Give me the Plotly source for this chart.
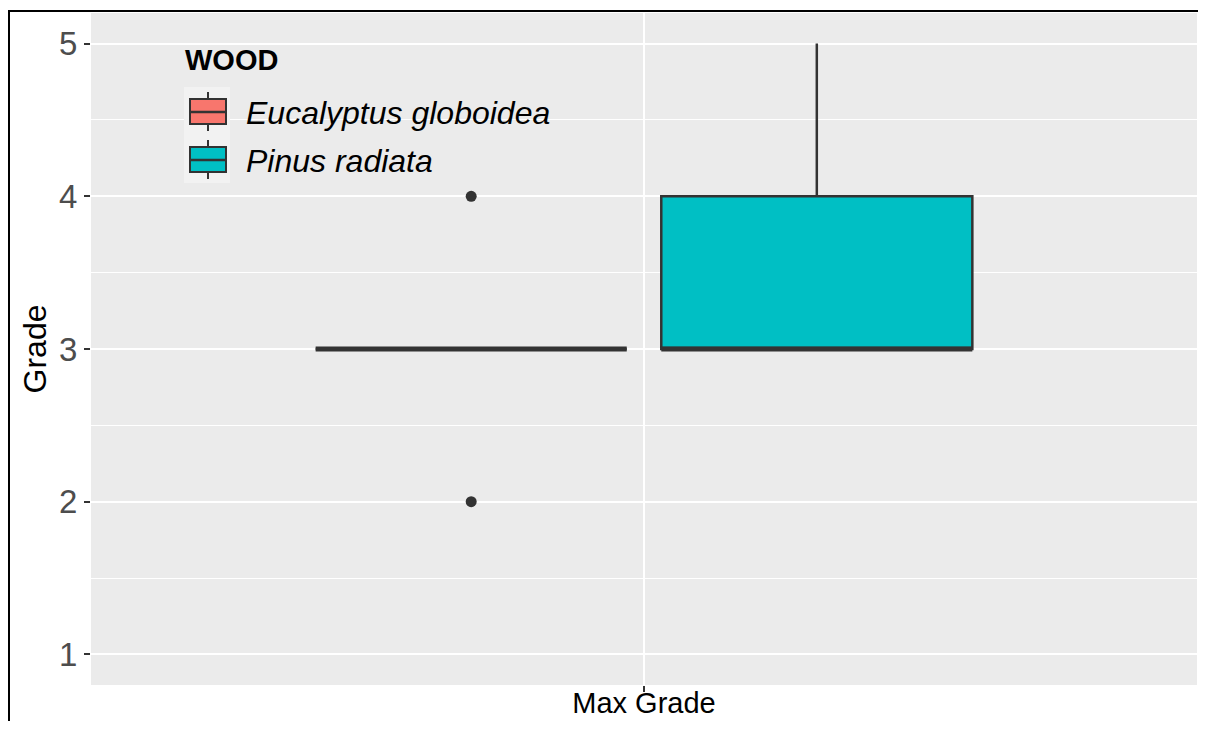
import plotly.graph_objects as go

# ---- data ----
category = ["Max Grade"]
woods = ["Eucalyptus globoidea", "Pinus radiata"]
q1 = [3, 3]
median = [3, 3]
q3 = [3, 4]
lowerfence = [3, 3]
upperfence = [3, 5]
outliers = [[2, 4], []]
y_ticks = [1, 2, 3, 4, 5]

# ---- style ----
fills = ["#F8766D", "#00BFC4"]
dark = "#333333"
FONT = "Liberation Sans, Arial, sans-serif"

# page body has an 8px margin, so the figure is sized to fit the window
OFF = 8
W, H = 1206 - OFF, 729 - 2 * OFF
PL, PR, PT, PB = 91, 1197, 13, 685          # panel edges in window pixels
ML, MR, MT, MB = PL - OFF, (OFF + W) - PR, PT - OFF, (OFF + H) - PB

def px_x(p):
    return (p - PL) / (PR - PL)

def px_y(p):
    return (PB - p) / (PB - PT)

fig = go.Figure()
for i, w in enumerate(woods):
    kw = {}
    if outliers[i]:
        kw["y"] = [outliers[i]]
        kw["boxpoints"] = "outliers"
    else:
        kw["boxpoints"] = False
    fig.add_trace(go.Box(
        x=category,
        q1=[q1[i]], median=[median[i]], q3=[q3[i]],
        lowerfence=[lowerfence[i]], upperfence=[upperfence[i]],
        name=w,
        fillcolor=fills[i],
        line=dict(color=dark, width=2.5),
        marker=dict(color=dark, size=11, line=dict(width=0)),
        pointpos=0, jitter=0,
        offsetgroup=str(i),
        whiskerwidth=0,
        showlegend=False,
        **kw,
    ))
# thicker median lines (ggplot fatten)
for i, w in enumerate(woods):
    fig.add_trace(go.Box(
        x=category,
        q1=[median[i]], median=[median[i]], q3=[median[i]],
        lowerfence=[median[i]], upperfence=[median[i]],
        fillcolor="rgba(0,0,0,0)",
        line=dict(color=dark, width=5),
        boxpoints=False,
        offsetgroup=str(i),
        showlegend=False, hoverinfo="skip",
        whiskerwidth=0,
    ))

shapes = []
# outer frame (left and top edges)
shapes.append(dict(type="line", xref="paper", yref="paper",
                   x0=px_x(9), x1=px_x(9), y0=px_y(11), y1=px_y(760),
                   line=dict(color="black", width=2)))
shapes.append(dict(type="line", xref="paper", yref="paper",
                   x0=px_x(8), x1=px_x(1230), y0=px_y(11), y1=px_y(11),
                   line=dict(color="black", width=2)))

# ggplot-style legend keys
shapes.append(dict(type="rect", xref="paper", yref="paper", layer="above",
                   x0=px_x(184), x1=px_x(230), y0=px_y(87), y1=px_y(183),
                   fillcolor="#F2F2F2", line=dict(width=0)))
key_centres = [112, 160]
annotations = []
for i, w in enumerate(woods):
    c = key_centres[i]
    shapes.append(dict(type="line", xref="paper", yref="paper", layer="above",
                       x0=px_x(208), x1=px_x(208), y0=px_y(c - 20), y1=px_y(c + 19),
                       line=dict(color=dark, width=2)))
    shapes.append(dict(type="rect", xref="paper", yref="paper", layer="above",
                       x0=px_x(190), x1=px_x(226), y0=px_y(c - 13), y1=px_y(c + 12),
                       fillcolor=fills[i], line=dict(color=dark, width=2)))
    shapes.append(dict(type="line", xref="paper", yref="paper", layer="above",
                       x0=px_x(190), x1=px_x(226), y0=px_y(c), y1=px_y(c),
                       line=dict(color=dark, width=2.5)))
    annotations.append(dict(text=f"<i>{w}</i>", xref="paper", yref="paper",
                            x=px_x(244), y=px_y(c + 1), xanchor="left", yanchor="middle",
                            showarrow=False,
                            font=dict(size=32, family=FONT, color="black")))
annotations.append(dict(text="<b>WOOD</b>", xref="paper", yref="paper",
                        x=px_x(183), y=px_y(60), xanchor="left", yanchor="middle",
                        showarrow=False,
                        font=dict(size=29, family=FONT, color="black")))

fig.update_layout(
    width=W, height=H,
    margin=dict(l=ML, r=MR, t=MT, b=MB, pad=0),
    paper_bgcolor="white",
    plot_bgcolor="#EBEBEB",
    boxmode="group", boxgap=0.25, boxgroupgap=0.1,
    font=dict(family=FONT, color="black"),
    showlegend=False,
    shapes=shapes,
    annotations=annotations,
    xaxis=dict(
        type="category", range=[-0.6, 0.6], automargin=False,
        showgrid=True, gridcolor="white", gridwidth=2.2,
        ticks="outside", ticklen=6, tickwidth=2, tickcolor=dark,
        ticklabelstandoff=-14,
        tickfont=dict(size=29, color="black", family=FONT),
        zeroline=False, showline=False,
    ),
    yaxis=dict(
        range=[0.8, 5.2], tickvals=y_ticks, automargin=False,
        showgrid=True, gridcolor="white", gridwidth=2.2,
        minor=dict(dtick=0.5, tick0=0.5, showgrid=True, gridcolor="white", gridwidth=1, ticks=""),
        ticks="outside", ticklen=6, tickwidth=2, tickcolor=dark,
        tickfont=dict(size=33, color="#4D4D4D", family=FONT),
        zeroline=False, showline=False,
        title=dict(text="Grade", font=dict(size=32, color="black", family=FONT), standoff=2),
    ),
)

fig.write_html("out.html")
